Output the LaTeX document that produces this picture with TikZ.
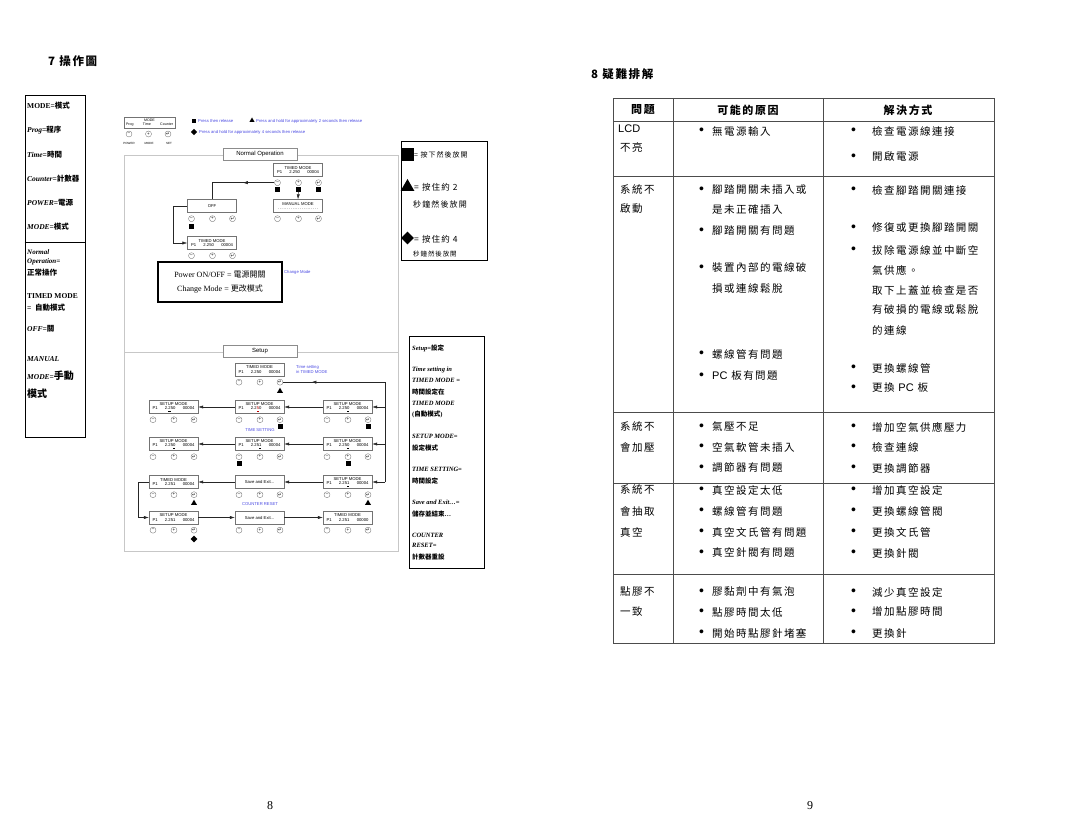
\documentclass[tikz,border=0pt]{standalone}
\usepackage{fontspec}
\setmainfont{Liberation Serif}
\setsansfont{Liberation Sans}
\newfontfamily\cjk{Noto Sans CJK TC}
\newfontfamily\cjkwide{Noto Sans CJK TC}[LetterSpace=14]
\newfontfamily\symf{DejaVu Sans}
\usetikzlibrary{positioning,calc,shapes.geometric,arrows.meta,decorations.markings}
\definecolor{hintblue}{RGB}{72,72,225}
\newcommand{\zh}[1]{{\cjk #1}}
\newcommand{\dotb}{\raisebox{0.6pt}{\sffamily\fontsize{14}{14}\selectfont •}}
\newcommand{\lcdrow}[3]{\makebox[42pt]{#1\hfill#2\hfill#3}}
\newcommand{\entr}{{\symf ↵}}
\newcommand{\lcdpanel}[3]{%
  \node[lcd] (#1) at (#2) {#3};
  \node[btn] (#1m) at ($(#1.south)+(-20.5,6)$) {–};
  \node[btn] (#1p) at ($(#1.south)+(0.5,6)$) {+};
  \node[btn] (#1e) at ($(#1.south)+(20.5,6)$) {\entr};
}
\tikzset{midarrow/.style={postaction={decorate, decoration={markings, mark=at position #1 with {\arrow{>}}}}}}

\begin{document}
\begin{tikzpicture}[x=1pt, y=-1pt, >={Latex[length=5pt,width=3.2pt]},
  lcd/.style={draw=black!55, line width=0.35pt, fill=white, minimum width=49pt, minimum height=13pt, inner sep=0.4pt, align=center, font=\sffamily\fontsize{4.2}{4.7}\selectfont},
  btn/.style={circle, draw=black!60, line width=0.3pt, minimum size=6pt, inner sep=0pt, font=\sffamily\fontsize{4.5}{5}\selectfont},
  sq/.style={rectangle, fill=black, minimum size=5pt, inner sep=0pt},
  tri/.style={regular polygon, regular polygon sides=3, fill=black, minimum size=7pt, inner sep=0pt},
  dia/.style={diamond, fill=black, minimum size=7pt, inner sep=0pt},
  link/.style={draw=black!85, line width=0.45pt},
  frame/.style={draw=black!22, line width=0.7pt},
  titlebox/.style={draw=black!45, line width=0.4pt, fill=white, minimum width=74pt, minimum height=12pt, inner sep=0pt, font=\sffamily\fontsize{6}{7}\selectfont},
  hint/.style={inner sep=0pt, text=hintblue, font=\sffamily\fontsize{4.2}{5}\selectfont},
  legbox/.style={draw=black, line width=0.8pt, inner sep=0pt},
  leg/.style={anchor=west, inner sep=0pt, font=\bfseries\fontsize{7.5}{9}\selectfont},
  sym/.style={anchor=west, inner sep=0pt, font=\cjkwide\fontsize{7}{8}\selectfont},
  head/.style={anchor=west, inner sep=0pt, font=\cjkwide\bfseries\fontsize{11.5}{13}\selectfont},
  cell/.style={anchor=west, inner sep=0pt, font=\cjkwide\fontsize{10.5}{12}\selectfont},
  hdr/.style={inner sep=0pt, font=\cjkwide\bfseries\fontsize{11}{12}\selectfont},
  tbl/.style={draw=black!70, line width=0.8pt}]
\useasboundingbox (0,0) rectangle (1080,834);

% ---------- page 8 : operation chart ----------
\node[head] (h7) at (48,61) {7 操作圖};

% legend of words
\node[legbox, minimum width=60pt, minimum height=342pt] (lbox) at (55,266) {};
\draw[line width=0.8pt] (lbox.west |- 0,242) -- (lbox.east |- 0,242);
\node[leg] (w1) at (27,106) {MODE=\zh{模式}};
\node[leg] (w2) at (27,130) {\textit{Prog}=\zh{程序}};
\node[leg] (w3) at (27,155) {\textit{Time}=\zh{時間}};
\node[leg] (w4) at (27,179) {\textit{Counter}=\zh{計數器}};
\node[leg] (w5) at (27,203) {\textit{POWER}=\zh{電源}};
\node[leg] (w6) at (27,227) {\textit{MODE}=\zh{模式}};
\node[leg, font=\bfseries\fontsize{7}{8}\selectfont] (w7) at (27,252) {\textit{Normal}};
\node[leg, font=\bfseries\fontsize{7}{8}\selectfont] (w8) at (27,262) {\textit{Operation=}};
\node[leg] (w9) at (27,273) {\zh{正常操作}};
\node[leg] (w10) at (27,296) {TIMED MODE};
\node[leg] (w11) at (27,308) {=\ \ \zh{自動模式}};
\node[leg] (w12) at (27,329) {\textit{OFF}=\zh{關}};
\node[leg] (w13) at (27,359) {\textit{MANUAL}};
\node[leg] (w14) at (27,376) {\textit{MODE}=\zh{\fontsize{10}{12}\selectfont 手動}};
\node[leg] (w15) at (27,394) {\zh{\fontsize{10}{12}\selectfont 模式}};

% keypad
\node[lcd, minimum width=51pt, minimum height=11pt, font=\sffamily\fontsize{3.6}{4.2}\selectfont] (kp) at (149.5,122.5) {MODE\\\makebox[47pt]{Prog\hfill Time\hfill Counter}};
\node[btn] (kpm) at (129,134) {–};
\node[btn] (kpp) at (148.5,134) {+};
\node[btn] (kpe) at (168,134) {\entr};
\node[inner sep=0pt, font=\sffamily\fontsize{3}{3.5}\selectfont] (kl1) at (129,143) {POWER};
\node[inner sep=0pt, font=\sffamily\fontsize{3}{3.5}\selectfont] (kl2) at (149,143) {MODE};
\node[inner sep=0pt, font=\sffamily\fontsize{3}{3.5}\selectfont] (kl3) at (169,143) {SET};

% key legend
\node[sq, minimum size=4.5pt] (k1) at (194,121) {};
\node[hint, anchor=west] (k1t) at (198,121) {Press then release};
\node[tri, minimum size=6pt] (k2) at (252,120.5) {};
\node[hint, anchor=west] (k2t) at (256,121) {Press and hold for approximately 2 seconds then release};
\node[dia, minimum size=6.5pt] (k3) at (194,132) {};
\node[hint, anchor=west] (k3t) at (199,132) {Press and hold for approximately 4 seconds then release};

% frames
\draw[frame] (398,155) -- (124,155) -- (124,551) -- (398,551) -- cycle;
\draw[frame] (124,352) -- (398,352);
\node[titlebox] (nop) at (260,154) {Normal Operation};
\node[titlebox] (sup) at (260,351.5) {Setup};

% normal operation
\lcdpanel{tmA}{298,170}{TIMED MODE\\\lcdrow{P1}{2.250}{00004}}
\lcdpanel{man}{298,206}{MANUAL MODE\\\makebox[42pt]{\dotfill}}
\lcdpanel{off}{212,206}{OFF}
\lcdpanel{tmB}{212,243}{TIMED MODE\\\lcdrow{P1}{2.250}{00004}}
\node[sq, below=0.5pt of tmAm] (qA1) {};
\node[sq, below=0.5pt of tmAp] (qA2) {};
\node[sq, below=0.5pt of tmAe] (qA3) {};
\node[sq, below=1.5pt of offm] (qB1) {};
\draw[link, midarrow=0.4] (tmAm.west) -- (tmAm.west -| off.north) -- (off.north);
\draw[link, ->] (qA2) -- (man.north);
\draw[link, ->] (off.west) -- ++(-14,0) |- (tmB.west);

\node[draw=black, line width=1.1pt, minimum width=124pt, minimum height=40pt, align=center, inner sep=0pt, font=\fontsize{8}{10}\selectfont] (pwr) at (220,282) {Power ON/OFF = \zh{電源開關}\\[4pt] Change Mode = \zh{更改模式}};
\node[hint, anchor=west] (chg) at (284,272) {Change Mode};

% setup
\lcdpanel{tsA}{259.5,369.5}{TIMED MODE\\\lcdrow{P1}{2.250}{00004}}
\node[hint, anchor=west, align=left] (tsh) at (296,369.5) {Time setting\\in TIMED MODE};
\node[tri, below=2pt of tsAe] (tA) {};

\lcdpanel{s1a}{173.5,407}{SETUP MODE\\\lcdrow{P1}{2.\underline{2}50}{00004}}
\lcdpanel{s1b}{259.5,407}{SETUP MODE\\\lcdrow{P1}{2.2\textcolor{red!75!black}{\underline{5}}0}{00004}}
\lcdpanel{s1c}{347.5,407}{SETUP MODE\\\lcdrow{P1}{2.25\underline{0}}{00004}}
\node[sq, below=1pt of s1be] (q1b) {};
\node[sq, below=1pt of s1ce] (q1c) {};
\node[hint] (tset) at (260,430) {TIME SETTING};

\lcdpanel{s2a}{173.5,444}{SETUP MODE\\\lcdrow{P1}{2.25\underline{0}}{00004}}
\lcdpanel{s2b}{259.5,444}{SETUP MODE\\\lcdrow{P1}{2.25\underline{1}}{00004}}
\lcdpanel{s2c}{347.5,444}{SETUP MODE\\\lcdrow{P1}{2.25\underline{0}}{00004}}
\node[sq, below=1pt of s2bm] (q2b) {};
\node[sq, below=1pt of s2cp] (q2c) {};

\lcdpanel{t3a}{173.5,482}{TIMED MODE\\\lcdrow{P1}{2.251}{00004}}
\lcdpanel{x3b}{259.5,482}{Save and Exit...}
\lcdpanel{s3c}{347.5,482}{SETUP MODE\\\lcdrow{P1}{2.25\underline{1}}{00004}}
\node[tri, below=1.5pt of t3ae] (t3) {};
\node[tri, below=1.5pt of s3ce] (t3c) {};
\node[hint] (cres) at (260,504) {COUNTER RESET};

\lcdpanel{s4a}{173.5,517.5}{SETUP MODE\\\lcdrow{P1}{2.251}{00004}}
\lcdpanel{x4b}{259.5,517.5}{Save and Exit...}
\lcdpanel{t4c}{347.5,517.5}{TIMED MODE\\\lcdrow{P1}{2.251}{00000}}
\node[dia, below=2pt of s4ae] (d4) {};

\coordinate (rt) at (385,482);
\draw[link, midarrow=0.86] (rt) -- (rt |- tsAe) -- (tsAe.east);
\draw[link, ->] (rt |- s1c.east) -- (s1c.east);
\draw[link, ->] (rt |- s2c.east) -- (s2c.east);
\draw[link, ->] (rt) -- (s3c.east);
\draw[link, ->] (s1c.west) -- (s1b.east);
\draw[link, ->] (s1b.west) -- (s1a.east);
\draw[link, ->] (s2c.west) -- (s2b.east);
\draw[link, ->] (s2b.west) -- (s2a.east);
\draw[link, ->] (s3c.west) -- (x3b.east);
\draw[link, ->] (x3b.west) -- (t3a.east);
\draw[link, ->] (t3a.west) -- ++(-11,0) |- (s4a.west);
\draw[link, ->] (s4a.east) -- (x4b.west);
\draw[link, ->] (x4b.east) -- (t4c.west);

% symbol legend
\node[legbox, minimum width=86pt, minimum height=119pt] (symbox) at (444,200.5) {};
\node[sq, minimum size=13pt] (bsq) at (407.5,155) {};
\node[sym] (bsqt) at (414,155) {= 按下然後放開};
\node[tri, minimum size=16pt] (btri) at (407.5,187) {};
\node[sym, font=\cjkwide\fontsize{8.5}{10}\selectfont] (btrit) at (414,187) {= 按住約 2};
\node[sym, font=\cjkwide\fontsize{8}{10}\selectfont] (btrit2) at (413,204) {秒鐘然後放開};
\node[dia, minimum size=13pt] (bdia) at (407.5,238) {};
\node[sym, font=\cjkwide\fontsize{8.5}{10}\selectfont] (bdiat) at (414,239) {= 按住約 4};
\node[sym, font=\cjkwide\fontsize{6.5}{8}\selectfont] (bdiat2) at (413,254) {秒鐘然後放開};

% setup legend
\node[legbox, minimum width=75pt, minimum height=232pt] (setbox) at (446.5,452) {};
\begin{scope}[every node/.style={leg, font=\bfseries\fontsize{6.5}{8}\selectfont}]
\node (v1) at (412,348) {\textit{Setup}=\zh{設定}};
\node (v2) at (412,370) {\textit{Time setting in}};
\node (v3) at (412,380) {\textit{TIMED MODE =}};
\node (v4) at (412,392) {\zh{時間設定在}};
\node (v5) at (412,403) {\textit{TIMED MODE}};
\node (v6) at (412,414) {(\zh{自動模式})};
\node (v7) at (412,436) {\textit{SETUP MODE=}};
\node (v8) at (412,448) {\zh{設定模式}};
\node (v9) at (412,469) {\textit{TIME SETTING=}};
\node (v10) at (412,481) {\zh{時間設定}};
\node (v11) at (412,502) {\textit{Save and Exit\ldots=}};
\node (v12) at (412,514) {\zh{儲存並結束}\ldots};
\node (v13) at (412,535) {\textit{COUNTER}};
\node (v14) at (412,545) {\textit{RESET=}};
\node (v15) at (412,557) {\zh{計數器重設}};
\end{scope}

\node[font=\fontsize{12}{14}\selectfont] (pg8) at (270,806) {8};

% ---------- page 9 : troubleshooting ----------
\node[head] (h8) at (591,74) {8 疑難排解};
\draw[tbl] (613,98) rectangle (994,643);
\draw[tbl] (673,98) -- (673,643);
\draw[tbl] (823,98) -- (823,643);
\foreach \yy in {121,176,412,483,574} \draw[tbl] (613,\yy) -- (994,\yy);

\node[hdr] (hq) at (643,110) {問題};
\node[hdr] (hc) at (748,110) {可能的原因};
\node[hdr] (hs) at (908,110) {解決方式};

\node[cell, font=\sffamily\fontsize{11}{12}\selectfont] (q0) at (618,129) {LCD};
\foreach \yy/\txt [count=\i] in {147/不亮, 190/系統不, 209/啟動, 427/系統不, 447/會加壓, 490/系統不, 511/會抽取, 532/真空, 592/點膠不, 612/一致}
  \node[cell] (q\i) at (620,\yy) {\txt};

\foreach \yy/\txt [count=\i] in {131/無電源輸入, 190/腳踏開關未插入或, 231/腳踏開關有問題, 268/裝置內部的電線破, 354/螺線管有問題, 376/{{\sffamily\fontsize{11}{12}\selectfont PC} 板有問題}, 427/氣壓不足, 447/空氣軟管未插入, 468/調節器有問題, 490/真空設定太低, 511/螺線管有問題, 532/真空文氏管有問題, 553/真空針閥有問題, 592/膠黏劑中有氣泡, 612/點膠時間太低, 633/開始時點膠針堵塞}
  \node[cell] (c\i) at (699,\yy) {\makebox[13pt][l]{\dotb}\txt};
\node[cell] (c17) at (712,210) {是未正確插入};
\node[cell] (c18) at (712,289) {損或連線鬆脫};

\foreach \yy/\txt [count=\i] in {131/檢查電源線連接, 157/開啟電源, 190/檢查腳踏開關連接, 228/修復或更換腳踏開關, 250/拔除電源線並中斷空, 368/更換螺線管, 388/{更換 {\sffamily\fontsize{11}{12}\selectfont PC} 板}, 427/增加空氣供應壓力, 447/檢查連線, 468/更換調節器, 490/增加真空設定, 511/更換螺線管閥, 532/更換文氏管, 553/更換針閥, 592/減少真空設定, 612/增加點膠時間, 633/更換針}
  \node[cell] (s\i) at (851,\yy) {\makebox[21pt][l]{\dotb}\txt};
\foreach \yy/\txt [count=\i] in {270/氣供應。, 290/取下上蓋並檢查是否, 310/有破損的電線或鬆脫, 330/的連線}
  \node[cell] (r\i) at (872,\yy) {\txt};

\node[font=\fontsize{12}{14}\selectfont] (pg9) at (810,806) {9};
\end{tikzpicture}
\end{document}
